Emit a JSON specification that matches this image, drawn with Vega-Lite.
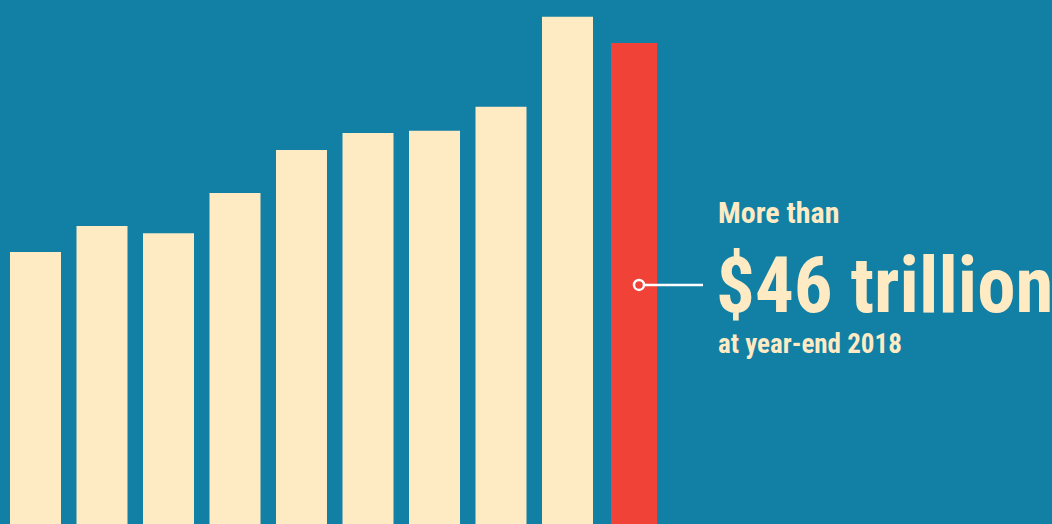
{
  "$schema": "https://vega.github.io/schema/vega-lite/v6.json",
  "width": 1052,
  "height": 524,
  "autosize": {"type": "fit", "contains": "padding"},
  "padding": 0,
  "background": "#127FA5",
  "config": {"view": {"stroke": null}},
  "datasets": {
    "bars": [
      {"year": "2009", "value": 26.0, "highlight": false},
      {"year": "2010", "value": 28.5, "highlight": false},
      {"year": "2011", "value": 27.8, "highlight": false},
      {"year": "2012", "value": 31.65, "highlight": false},
      {"year": "2013", "value": 35.77, "highlight": false},
      {"year": "2014", "value": 37.4, "highlight": false},
      {"year": "2015", "value": 37.6, "highlight": false},
      {"year": "2016", "value": 39.9, "highlight": false},
      {"year": "2017", "value": 48.5, "highlight": false},
      {"year": "2018", "value": 46.0, "highlight": true}
    ],
    "note": [
      {"year": "2018", "value": 22.86, "line1": "More than", "line2": "$46 trillion", "line3": "at year-end 2018"}
    ]
  },
  "encoding": {
    "x": {
      "field": "year",
      "type": "ordinal",
      "axis": null,
      "scale": {
        "domain": ["2009", "2010", "2011", "2012", "2013", "2014", "2015", "2016", "2017", "2018"],
        "range": [2.25, 667.25],
        "paddingInner": 0,
        "paddingOuter": 0
      }
    },
    "y": {
      "field": "value",
      "type": "quantitative",
      "axis": null,
      "scale": {"domain": [0, 50.11], "nice": false, "zero": true}
    }
  },
  "layer": [
    {
      "data": {"name": "bars"},
      "transform": [{"filter": "!datum.highlight"}],
      "mark": {"type": "bar", "width": {"band": 0.767}, "color": "#FEEAC3"}
    },
    {
      "data": {"name": "bars"},
      "transform": [{"filter": "datum.highlight"}],
      "mark": {"type": "bar", "width": {"band": 0.692}, "color": "#F04236"}
    },
    {
      "data": {"name": "note"},
      "mark": {"type": "rule", "color": "#FFFFFF", "strokeWidth": 2.5, "xOffset": 5, "x2Offset": 69},
      "encoding": {
        "x": {"field": "year", "type": "ordinal", "bandPosition": 0.5},
        "x2": {"field": "year", "bandPosition": 0.5}
      }
    },
    {
      "data": {"name": "note"},
      "mark": {"type": "point", "filled": true, "fill": "#F04236", "stroke": "#FFFFFF", "strokeWidth": 2.5, "size": 100, "opacity": 1, "xOffset": 5}
    },
    {
      "data": {"name": "note"},
      "mark": {"type": "text", "align": "left", "baseline": "alphabetic", "dx": 84, "dy": -62, "font": "'Roboto Condensed', Roboto, sans-serif", "fontWeight": "bold", "fontSize": 30, "color": "#FEEAC3"},
      "encoding": {"text": {"field": "line1"}}
    },
    {
      "data": {"name": "note"},
      "mark": {"type": "text", "align": "left", "baseline": "alphabetic", "dx": 82, "dy": 27, "font": "'Roboto Condensed', Roboto, sans-serif", "fontWeight": "bold", "fontSize": 77, "color": "#FEEAC3"},
      "encoding": {"text": {"field": "line2"}}
    },
    {
      "data": {"name": "note"},
      "mark": {"type": "text", "align": "left", "baseline": "alphabetic", "dx": 84, "dy": 68, "font": "'Roboto Condensed', Roboto, sans-serif", "fontWeight": "bold", "fontSize": 27, "color": "#FEEAC3"},
      "encoding": {"text": {"field": "line3"}}
    }
  ]
}
